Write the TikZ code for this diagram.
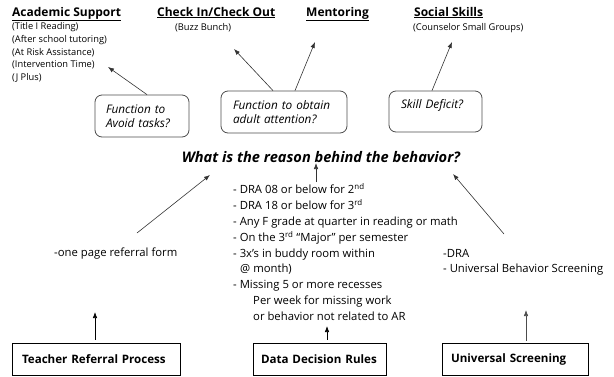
\documentclass[tikz,border=0pt]{standalone}
\usepackage{fontspec}
\setmainfont{Open Sans}
\usetikzlibrary{arrows.meta}
\begin{document}
\begin{tikzpicture}[x=1pt,y=-1pt,
  head/.style={font=\bfseries\fontsize{12}{13}\selectfont, inner sep=0pt, anchor=base west},
  small/.style={font=\fontsize{9.3}{10}\selectfont, inner sep=0pt, anchor=base west},
  body/.style={font=\fontsize{11.3}{12}\selectfont, inner sep=0pt, anchor=base west},
  fbox/.style={draw=black!70, rounded corners=7pt, line width=0.8pt, align=left,
    font=\itshape\fontsize{11.8}{14.5}\selectfont, inner ysep=0pt},
  sbox/.style={draw=black, line width=0.8pt, align=left, minimum height=32pt,
    font=\bfseries\fontsize{11.6}{13}\selectfont, inner ysep=0pt},
  arr/.style={-{Latex[length=6pt,width=4.5pt]}, draw=black!80, line width=0.6pt}]
\useasboundingbox (0,0) rectangle (614,376);

% top headings
\node[head] (as) at (12,16) {\underline{Academic Support}};
\node[small] (l1) at (12,29.5) {(Title I Reading)};
\node[small] (l2) at (12,42.5) {(After school tutoring)};
\node[small] (l3) at (12,55.5) {(At Risk Assistance)};
\node[small] (l4) at (12,67.5) {(Intervention Time)};
\node[small] (l5) at (12,80.5) {(J Plus)};
\node[head] (cico) at (157,16) {\underline{Check In/Check Out}};
\node[small] (bb) at (175,30.5) {(Buzz Bunch)};
\node[head] (men) at (306,16) {\underline{Mentoring}};
\node[head] (ss) at (414,16) {\underline{Social Skills}};
\node[small] (csg) at (413,30.5) {(Counselor Small Groups)};

% function boxes
\node[fbox, minimum width=94pt, minimum height=42pt, inner xsep=11pt, text width=72pt] (f1) at (142,116)
  {Function to\\Avoid tasks?};
\node[fbox, minimum width=126pt, minimum height=42pt, inner xsep=12pt, text width=102pt] (f2) at (284,112)
  {Function to obtain\\adult attention?};
\node[fbox, minimum width=93pt, minimum height=41pt, inner xsep=12pt, text width=69pt] (f3) at (435.5,111.5)
  {Skill Deficit?\\\mbox{}};

\coordinate (t1) at (108,67);
\coordinate (t2) at (234,49);
\coordinate (t3) at (315,42);
\coordinate (t4) at (452,42);
\draw[arr] ([xshift=5pt]f1.north) -- (t1);
\draw[arr] ([xshift=-11pt]f2.north) -- (t2);
\draw[arr] ([xshift=11pt]f2.north) -- (t3);
\draw[arr] ([xshift=-3.5pt]f3.north) -- (t4);

% question
\node[font=\bfseries\itshape\fontsize{14.6}{16}\selectfont, inner sep=0pt] (q) at (321,157)
  {What is the reason behind the behavior?};

% data decision list
\node[body] (d1) at (233,193) {- DRA 08 or below for 2\textsuperscript{nd}};
\node[body] (d2) at (233,209) {- DRA 18 or below for 3\textsuperscript{rd}};
\node[body] (d3) at (233,225) {- Any F grade at quarter in reading or math};
\node[body] (d4) at (233,241) {- On the 3\textsuperscript{rd} “Major” per semester};
\node[body] (d5) at (233,257) {- 3x’s in buddy room within};
\node[body] (d6) at (240,272.5) {@ month)};
\node[body] (d7) at (233,288.5) {- Missing 5 or more recesses};
\node[body] (d8) at (253,304) {Per week for missing work};
\node[body] (d9) at (253,320) {or behavior not related to AR};

% side texts
\node[body] (ref) at (54,256) {-one page referral form};
\node[body] (dra) at (443,257) {-DRA};
\node[body] (ubs) at (443,272) {- Universal Behavior Screening};

% diagonal arrows to question
\coordinate (ql) at (210,175);
\coordinate (qr) at (453,174);
\coordinate (rl) at (137,233);
\coordinate (rr) at (504,234);
\draw[arr] (rl) -- (ql);
\draw[arr] (rr) -- (qr);
\coordinate (qm) at (316,163);
\draw[arr] (316,182) coordinate (dtop) -- (qm);

% bottom boxes
\node[sbox, minimum width=168pt, inner xsep=10pt, text width=148pt] (tr) at (96,359) {Teacher Referral Process};
\node[sbox, minimum width=133pt, inner xsep=8pt, text width=117pt] (ddr) at (319.5,359) {Data Decision Rules};
\node[sbox, minimum width=146pt, inner xsep=9pt, text width=128pt] (us) at (515,359) {Universal Screening};

\coordinate (bl) at (95,312);
\coordinate (bm) at (327,326);
\coordinate (br) at (526,310);
\draw[arr, draw=black] (tr.north -| bl) ++(0,-3) -- (bl);
\draw[arr, draw=black] (ddr.north -| bm) ++(0,-3) -- (bm);
\draw[arr, draw=black!70] (us.north -| br) ++(0,-2) -- (br);
\end{tikzpicture}
\end{document}
